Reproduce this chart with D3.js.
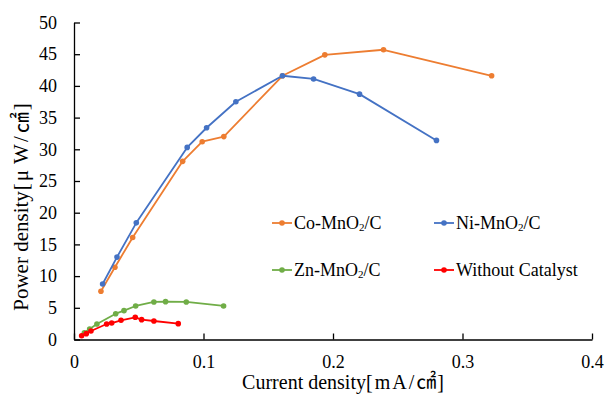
<!DOCTYPE html>
<html>
<head>
<meta charset="utf-8">
<script src="https://cdn.jsdelivr.net/npm/d3@7"></script>
<style>
  html, body { margin: 0; padding: 0; background: #fff; }
  svg { display: block; }
</style>
</head>
<body>
<svg id="chart" width="610" height="394"></svg>
<script>
// ---- data ----
const coX = [0.0208, 0.0316, 0.0453, 0.0839, 0.0990, 0.1157, 0.1610, 0.1937, 0.2390, 0.3225];
const coY = [7.6, 11.4, 16.1, 28.1, 31.2, 32.0, 41.6, 44.9, 45.7, 41.6];
const niX = [0.0221, 0.0332, 0.0481, 0.0874, 0.1024, 0.1250, 0.1610, 0.1850, 0.2205, 0.2799];
const niY = [8.76, 13.0, 18.4, 30.3, 33.4, 37.5, 41.6, 41.1, 38.7, 31.4];
const znX = [0.0080, 0.0121, 0.0177, 0.0322, 0.0386, 0.0476, 0.0617, 0.0707, 0.0867, 0.1155];
const znY = [1.07, 1.66, 2.45, 4.07, 4.55, 5.29, 5.92, 5.97, 5.92, 5.29];
const wcX = [0.0059, 0.0095, 0.0131, 0.0252, 0.0291, 0.0363, 0.0473, 0.0522, 0.0617, 0.0805];
const wcY = [0.60, 0.92, 1.34, 2.45, 2.60, 3.03, 3.50, 3.13, 2.92, 2.50];

const seriesNames = ["Co-MnO₂/C", "Ni-MnO₂/C", "Zn-MnO₂/C", "Without Catalyst"];
const seriesColors = ["#ED7D31", "#4472C4", "#70AD47", "#FF0000"];
const xTicks = [0, 0.1, 0.2, 0.3, 0.4];
const yTicks = [0, 5, 10, 15, 20, 25, 30, 35, 40, 45, 50];
const xTitle = "Current density[mA/㎠]";
const yTitle = "Power density[μW/㎠]";

const series = [
  { name: seriesNames[0], color: seriesColors[0], xs: coX, ys: coY },
  { name: seriesNames[1], color: seriesColors[1], xs: niX, ys: niY },
  { name: seriesNames[2], color: seriesColors[2], xs: znX, ys: znY },
  { name: seriesNames[3], color: seriesColors[3], xs: wcX, ys: wcY }
].map(s => ({ ...s, pts: s.xs.map((x, i) => [x, s.ys[i]]) }));

// ---- layout ----
const svg = d3.select("#chart");
const plot = { left: 74, right: 592, top: 22.5, bottom: 339.5 };
const SERIF = '"Liberation Serif", monospace';
const CJK = '"Noto Sans CJK JP"';

const x = d3.scaleLinear().domain([0, 0.4]).range([plot.left, plot.right]);
const y = d3.scaleLinear().domain([0, 50]).range([plot.bottom, plot.top]);

// axes
const xAxis = d3.axisBottom(x).tickValues(xTicks).tickFormat(d => d === 0 ? "0" : d3.format(".1f")(d))
  .tickSizeInner(-6).tickSizeOuter(0).tickPadding(16);
const yAxis = d3.axisLeft(y).tickValues(yTicks).tickFormat(d3.format("d"))
  .tickSizeInner(-6).tickSizeOuter(0).tickPadding(17);

const gx = svg.append("g").attr("transform", `translate(0,${plot.bottom})`).call(xAxis);
const gy = svg.append("g").attr("transform", `translate(${plot.left},0)`).call(yAxis);
[gx, gy].forEach(g => {
  g.attr("font-family", null).attr("font-size", null);
  g.selectAll("path.domain").attr("stroke", "#000").attr("stroke-width", 1.3);
  g.selectAll(".tick line").attr("stroke", "#000").attr("stroke-width", 1.3);
  g.selectAll(".tick text").style("font-family", SERIF).style("font-size", "18px").attr("fill", "#000");
});

// series
const line = d3.line().x(d => x(d[0])).y(d => y(d[1]));
series.forEach(s => {
  const g = svg.append("g");
  g.append("path").datum(s.pts).attr("d", line).attr("fill", "none")
    .attr("stroke", s.color).attr("stroke-width", 1.8).attr("stroke-linejoin", "round");
  g.selectAll("circle").data(s.pts).join("circle")
    .attr("cx", d => x(d[0])).attr("cy", d => y(d[1])).attr("r", 2.8)
    .attr("fill", s.color);
});

// axis titles (split so the unit part can use a CJK font for ㎠)
function unitTitle(sel, text, spacing) {
  const i = text.indexOf("[");
  sel.append("tspan").text(text.slice(0, i));
  const rest = Array.from(text.slice(i));
  rest.forEach((ch, k) => {
    const t = sel.append("tspan").attr("dx", spacing[k] || 0).text(ch);
    if (ch === "㎠") t.style("font-family", CJK);
  });
}
const xt = svg.append("text").attr("x", 343).attr("y", 389).attr("text-anchor", "middle")
  .style("font-family", SERIF).style("font-size", "20px").attr("fill", "#000");
unitTitle(xt, xTitle, [0, 2, 2, 2, 2, 1]);

const yt = svg.append("text").attr("transform", "translate(28,207) rotate(-90)").attr("text-anchor", "middle")
  .style("font-family", SERIF).style("font-size", "21px").attr("fill", "#000");
unitTitle(yt, yTitle, [1, 2, 6, 2, 3, 2]);

// legend
const legendPos = [[272, 223], [434, 223], [272, 270], [434, 270]];
series.forEach((s, i) => {
  const [lx, ly] = legendPos[i];
  const g = svg.append("g").attr("transform", `translate(${lx},${ly})`);
  g.append("line").attr("x1", 0).attr("x2", 20).attr("y1", 0).attr("y2", 0)
    .attr("stroke", s.color).attr("stroke-width", 1.8);
  g.append("circle").attr("cx", 10).attr("cy", 0).attr("r", 2.8).attr("fill", s.color);
  const t = g.append("text").attr("x", 22).attr("y", 0).attr("dy", "0.35em")
    .style("font-family", SERIF).style("font-size", "18px").attr("fill", "#000");
  const m = s.name.match(/^(.*)₂(.*)$/);
  if (m) {
    t.append("tspan").text(m[1]);
    t.append("tspan").style("font-size", "11px").attr("dy", 2).text("2");
    t.append("tspan").attr("dy", -2).text(m[2]);
  } else {
    t.text(s.name);
  }
});
</script>
</body>
</html>
